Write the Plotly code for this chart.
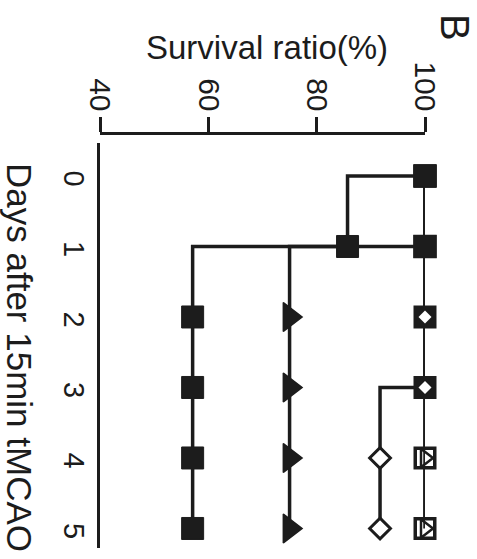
import plotly.graph_objects as go

days = [0, 1, 2, 3, 4, 5]
day_ticks = ["0", "1", "2", "3", "4", "5"]
surv_ticks = [40, 60, 80, 100]

# survival ratio (%) per group
grp_filled_square = [100, 85.7, 57.1, 57.1, 57.1, 57.1]
grp_filled_triangle = [100, 100, 75.0, 75.0, 75.0, 75.0]
grp_open_diamond = [100, 100, 100, 100, 91.7, 91.7]
grp_open_square = [100, 100, 100, 100, 100, 100]
grp_open_triangle = [100, 100, 100, 100, 100, 100]

INK = "#1c1c1c"
W, H = 477, 559
L, R, T, B = 100, 52, 133, 11
pw = W - L - R
ph = H - T - B
ytop_gap = 10

fig = go.Figure()

line_style = dict(color=INK, width=3.5, shape="hv")

# open squares (filled black while covered by diamonds, white afterwards)
fig.add_trace(go.Scatter(
    x=grp_open_square, y=days, mode="lines+markers", line=line_style,
    marker=dict(symbol="square", size=19.5, opacity=1,
                color=[INK, INK, INK, INK, "white", "white"],
                line=dict(color=INK, width=3.5)),
    cliponaxis=False, showlegend=False))

# open triangles
fig.add_trace(go.Scatter(
    x=grp_open_triangle, y=days, mode="lines+markers", line=line_style,
    marker=dict(symbol="triangle-right-open", size=16, opacity=1,
                color=INK, line=dict(color=INK, width=2.5)),
    cliponaxis=False, showlegend=False))

# open diamonds
fig.add_trace(go.Scatter(
    x=grp_open_diamond, y=days, mode="lines+markers", line=line_style,
    marker=dict(symbol="diamond", size=[10, 10, 10, 10, 16, 16], color="white", opacity=1,
                line=dict(color=INK, width=[0, 0, 0, 0, 3, 3])),
    cliponaxis=False, showlegend=False))

# filled triangles
fig.add_trace(go.Scatter(
    x=grp_filled_triangle, y=days, mode="lines+markers", line=line_style,
    marker=dict(symbol=["square", "square"] + ["triangle-right"] * 4,
                size=[22, 22, 25, 25, 25, 25], color=INK, opacity=1,
                line=dict(color=INK, width=1.5)),
    cliponaxis=False, showlegend=False))

# filled squares
fig.add_trace(go.Scatter(
    x=grp_filled_square, y=days, mode="lines+markers", line=line_style,
    marker=dict(symbol="square", size=22, color=INK, opacity=1,
                line=dict(color=INK, width=1)),
    cliponaxis=False, showlegend=False))

font_family = "Liberation Sans, Arial, sans-serif"

fig.update_layout(
    width=W, height=H,
    margin=dict(l=L, r=R, t=T, b=B, pad=0),
    paper_bgcolor="white", plot_bgcolor="white",
    font=dict(family=font_family, color=INK),
    xaxis=dict(
        range=[40, 100], side="top", anchor="free", position=1,
        tickmode="array", tickvals=surv_ticks, ticktext=[str(v) for v in surv_ticks],
        tickangle=90, tickfont=dict(size=30, color=INK),
        ticks="outside", ticklen=15, tickwidth=3, tickcolor=INK,
        showline=True, linecolor=INK, linewidth=3,
        showgrid=False, zeroline=False, ticklabelstandoff=-5,
    ),
    yaxis=dict(
        range=[5.277, -0.468], domain=[0, 1 - ytop_gap / ph],
        tickmode="array", tickvals=days, ticktext=day_ticks,
        tickangle=90, tickfont=dict(size=29, color=INK),
        ticks="", showline=True, linecolor=INK, linewidth=3,
        showgrid=False, zeroline=False, ticklabelstandoff=-2,
        ticklabelshift=-7,
    ),
    annotations=[
        dict(text="Survival ratio(%)", xref="paper", yref="paper",
             x=(267 - L) / pw, y=(H - B - 47) / ph, xanchor="center", yanchor="middle",
             showarrow=False, font=dict(size=33, color=INK)),
        dict(text="B", xref="paper", yref="paper",
             x=(455 - L) / pw, y=(H - B - 28) / ph, xanchor="center", yanchor="middle",
             textangle=90, showarrow=False, font=dict(size=40, color=INK)),
        dict(text="Days after 15min tMCAO", xref="paper", yref="paper",
             x=(20 - L) / pw, y=(H - B - 357) / ph, xanchor="center", yanchor="middle",
             textangle=90, showarrow=False, font=dict(size=35, color=INK)),
    ],
)

fig.write_html("out.html")
